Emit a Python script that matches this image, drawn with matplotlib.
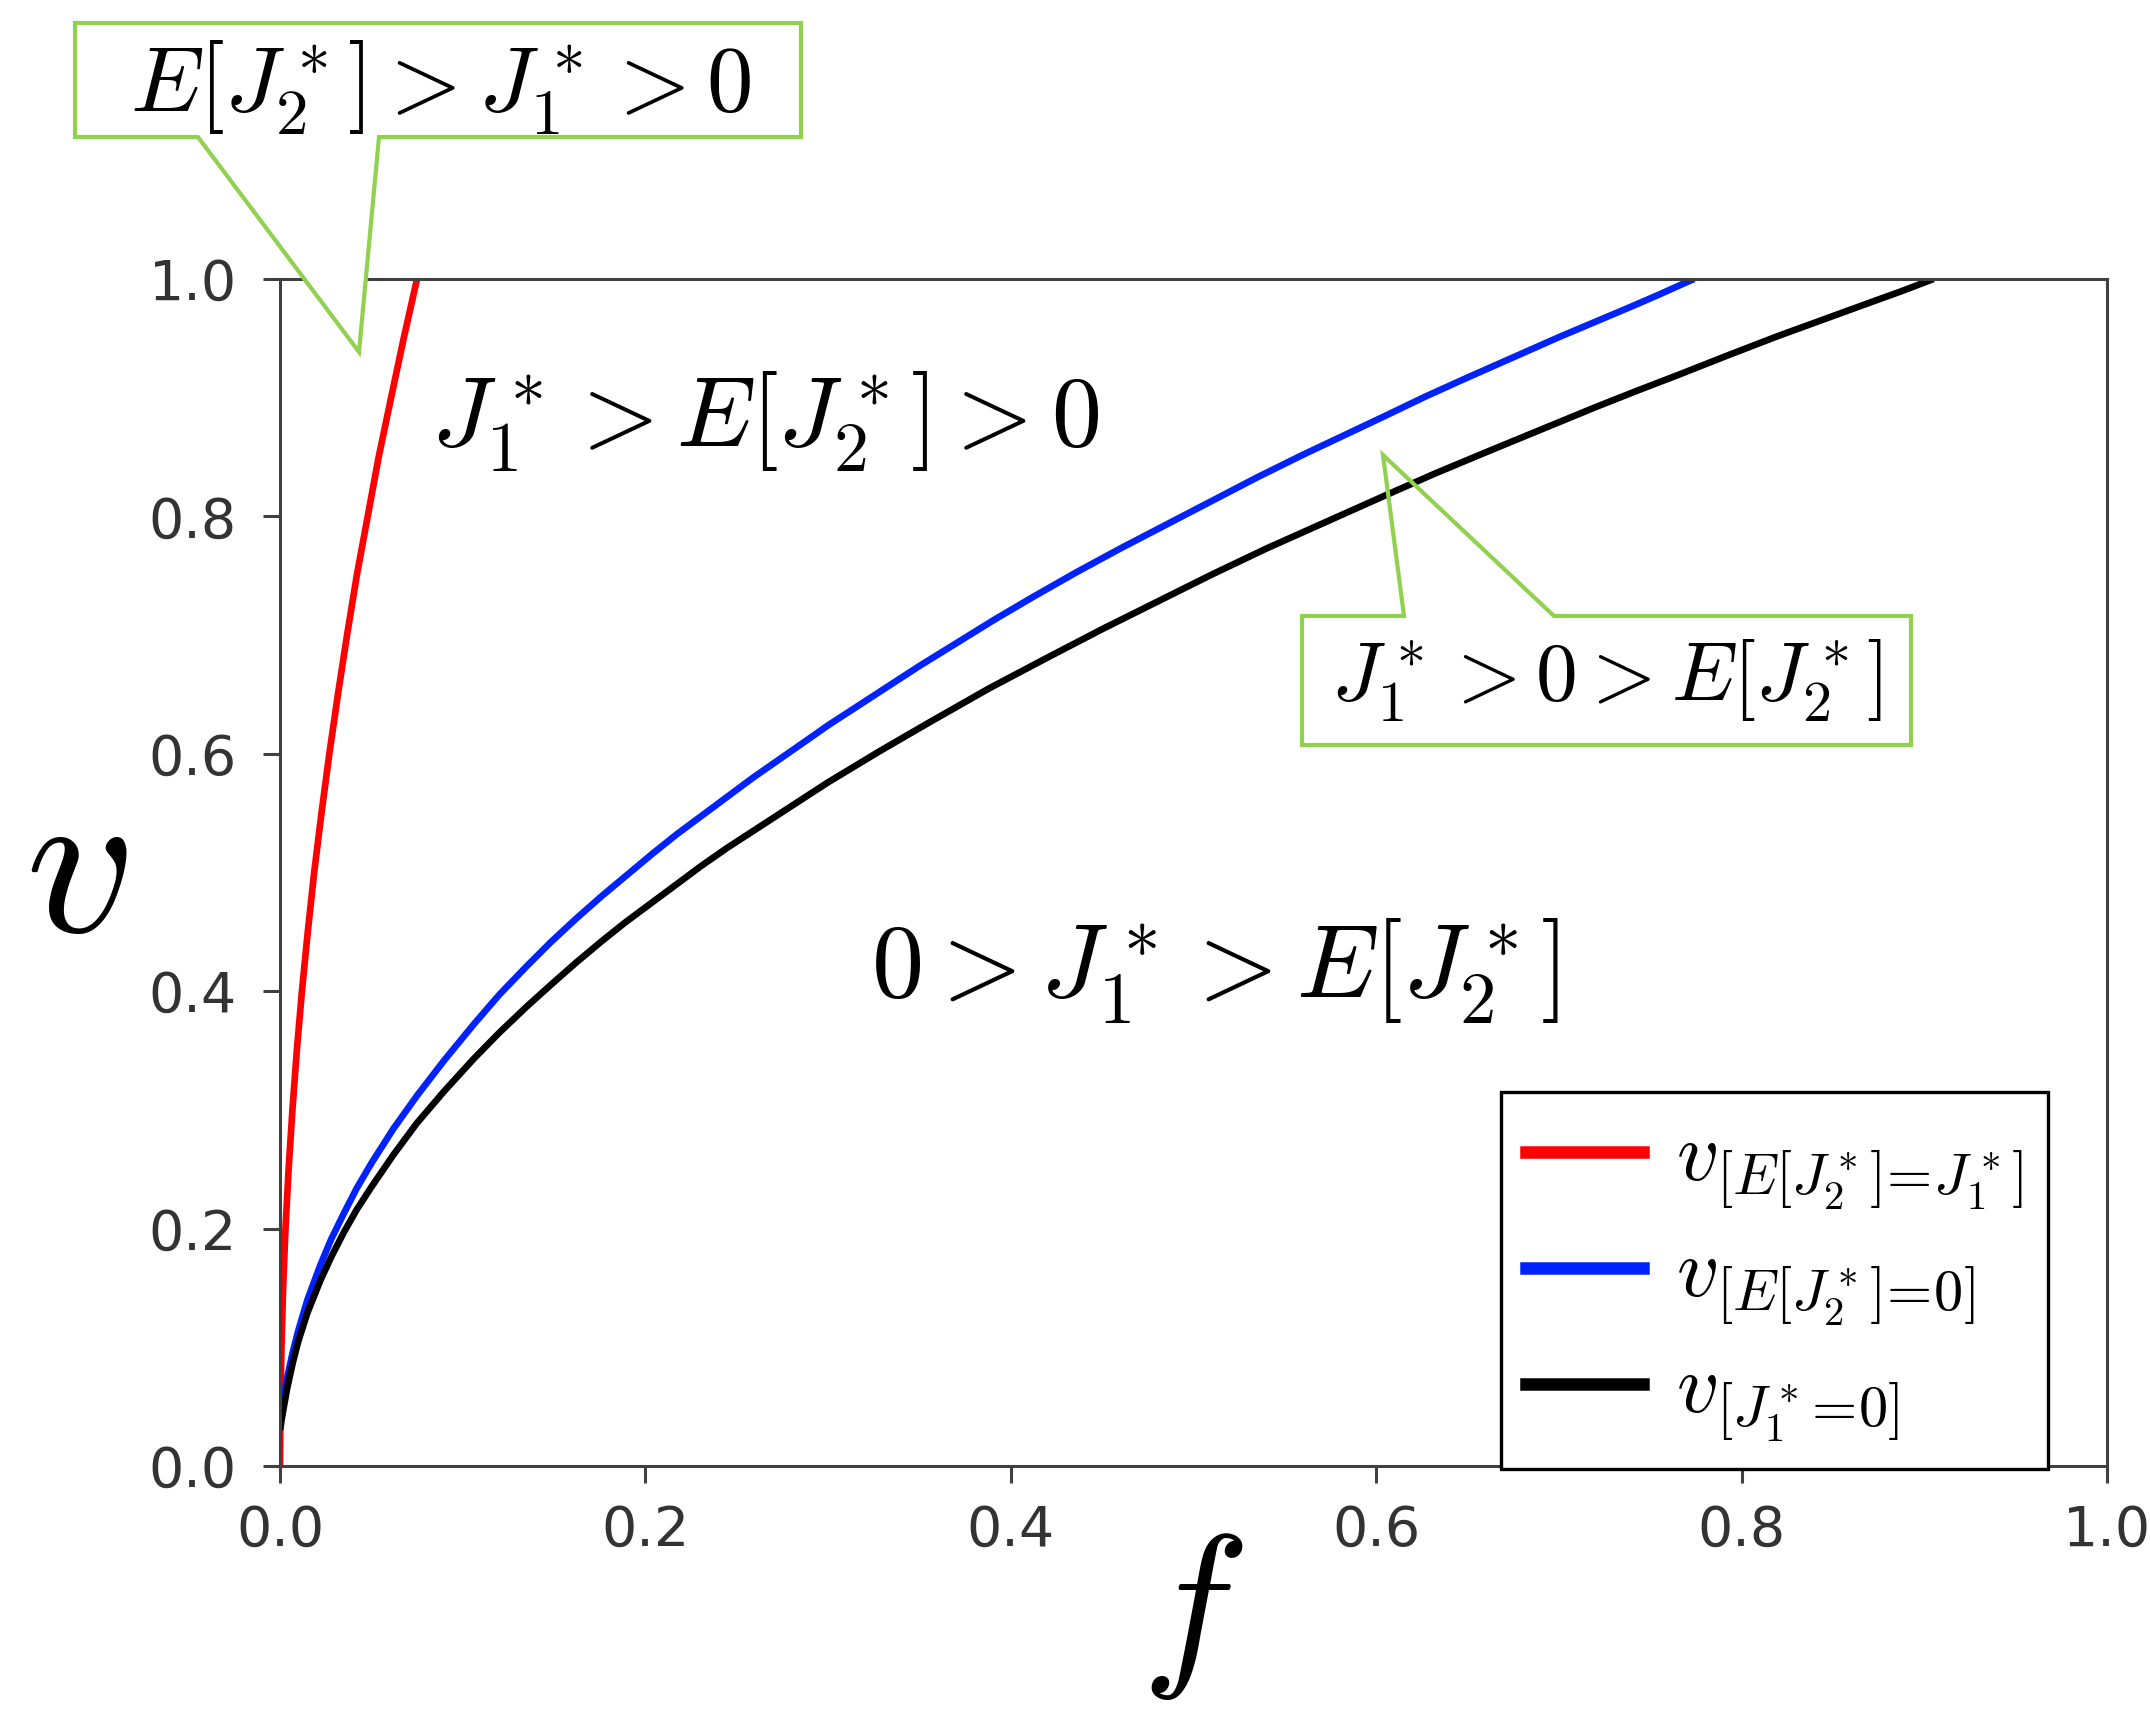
import matplotlib
matplotlib.use("Agg")
import matplotlib.pyplot as plt
from matplotlib.patches import Polygon
from matplotlib.lines import Line2D

plt.rcParams['mathtext.fontset'] = 'cm'
plt.rcParams['font.family'] = ['DejaVu Sans']

# ---- data ----
red_f = [0.000, 0.0002, 0.0008, 0.0017, 0.0030, 0.0047, 0.0068, 0.0092, 0.0120, 0.0152, 0.0187,
         0.0227, 0.0270, 0.0317, 0.0367, 0.0420, 0.0480, 0.0540, 0.0608, 0.0677, 0.0750]
red_v = [0.000, 0.05, 0.10, 0.15, 0.20, 0.25, 0.30, 0.35, 0.40, 0.45, 0.50,
         0.55, 0.60, 0.65, 0.70, 0.75, 0.80, 0.85, 0.90, 0.95, 1.00]

blue_f = [0.000, 0.001, 0.002, 0.004, 0.007, 0.010, 0.015, 0.022, 0.028, 0.035, 0.042, 0.050, 0.062,
          0.075, 0.090, 0.106, 0.120, 0.135, 0.148, 0.162, 0.176, 0.190, 0.204, 0.217, 0.231,
          0.245, 0.259, 0.273, 0.287, 0.300, 0.315, 0.329, 0.350, 0.370, 0.391, 0.412, 0.436,
          0.460, 0.485, 0.510, 0.535, 0.560, 0.582, 0.604, 0.627, 0.650, 0.675, 0.700, 0.720,
          0.740, 0.755, 0.768, 0.774]
blue_v = [0.040, 0.050, 0.058, 0.075, 0.096, 0.114, 0.140, 0.169, 0.191, 0.213, 0.234, 0.255, 0.284,
          0.312, 0.342, 0.372, 0.397, 0.421, 0.441, 0.461, 0.480, 0.498, 0.516, 0.532, 0.548,
          0.564, 0.580, 0.595, 0.610, 0.624, 0.639, 0.653, 0.674, 0.693, 0.713, 0.732, 0.753,
          0.773, 0.793, 0.813, 0.833, 0.852, 0.868, 0.884, 0.901, 0.917, 0.934, 0.951, 0.964,
          0.977, 0.987, 0.996, 1.000]

black_f = [0.000, 0.001, 0.002, 0.004, 0.007, 0.010, 0.015, 0.022, 0.028, 0.035, 0.042, 0.050, 0.062,
           0.075, 0.090, 0.106, 0.120, 0.135, 0.148, 0.162, 0.176, 0.189, 0.203, 0.217, 0.231,
           0.245, 0.259, 0.273, 0.287, 0.300, 0.328, 0.356, 0.388, 0.420, 0.450, 0.480, 0.510,
           0.540, 0.572, 0.604, 0.632, 0.660, 0.690, 0.720, 0.743, 0.765, 0.793, 0.820, 0.845,
           0.870, 0.888, 0.905]
black_v = [0.030, 0.040, 0.049, 0.066, 0.087, 0.105, 0.129, 0.156, 0.176, 0.197, 0.216, 0.235, 0.262,
           0.289, 0.316, 0.343, 0.365, 0.387, 0.405, 0.424, 0.442, 0.458, 0.474, 0.490, 0.506,
           0.521, 0.535, 0.549, 0.563, 0.576, 0.602, 0.627, 0.655, 0.681, 0.705, 0.728, 0.751,
           0.773, 0.795, 0.817, 0.836, 0.854, 0.873, 0.892, 0.906, 0.919, 0.936, 0.952, 0.966,
           0.980, 0.990, 1.000]

series_labels = [r'$v_{[E[J_2^*]\!=\!J_1^*]}$', r'$v_{[E[J_2^*]\!=\!0]}$', r'$v_{[J_1^*\!=\!0]}$']
series_colors = ['#ff0000', '#0022ff', '#000000']

ticks = [0.0, 0.2, 0.4, 0.6, 0.8, 1.0]
tick_labels = ['0.0', '0.2', '0.4', '0.6', '0.8', '1.0']

region_top = r'$J_1^* > E[J_2^*] > 0$'
region_mid = r'$0 > J_1^* > E[J_2^*]$'
callout_top = r'$E[J_2^*] > J_1^* > 0$'
callout_right = r'$J_1^* > 0 > E[J_2^*]$'

W, H = 2150, 1711
fig = plt.figure(figsize=(W / 100, H / 100), dpi=100)

def fx(px):
    return px / W

def fy(py):
    return 1 - py / H

ax = fig.add_axes([fx(280), fy(1466), fx(2107) - fx(280), fy(279) - fy(1466)])

for fvals, vvals, c, lab in zip([red_f, blue_f, black_f], [red_v, blue_v, black_v], series_colors, series_labels):
    ax.plot(fvals, vvals, color=c, lw=4.8, label=lab, solid_capstyle='butt', solid_joinstyle='round')

ax.set_xlim(0, 1)
ax.set_ylim(0, 1)
ax.set_xticks(ticks)
ax.set_xticklabels(tick_labels)
ax.set_yticks(ticks)
ax.set_yticklabels(tick_labels)
for s in ax.spines.values():
    s.set_color('#404040')
    s.set_linewidth(2.2)
ax.tick_params(axis='both', colors='#404040', labelcolor='#333333', labelsize=40,
               length=12, width=2.2, direction='out')
ax.tick_params(axis='x', pad=15)
ax.tick_params(axis='y', pad=19)

# axis labels
fig.text(fx(76), fy(873), r'$v$', fontsize=155, ha='center', va='center')
fig.text(fx(1192), fy(1614), r'$f$', fontsize=131, ha='center', va='center')

# region labels
fig.text(fx(765), fy(422), region_top, fontsize=72, ha='center', va='center')
fig.text(fx(1215), fy(971), region_mid, fontsize=75, ha='center', va='center')

green = '#92d050'
# callout 1 (top, filled white)
pts1 = [(75, 23), (801, 23), (801, 137), (379, 137), (359, 352), (198, 137), (75, 137)]
poly1 = Polygon([(fx(x), fy(y)) for x, y in pts1], closed=True, transform=fig.transFigure,
                facecolor='white', edgecolor=green, lw=3, zorder=5)
fig.patches.append(poly1)
fig.text(fx(441), fy(88), callout_top, fontsize=67, ha='center', va='center', zorder=6)

# callout 2 (right, unfilled)
pts2 = [(1302, 616), (1404, 616), (1383, 455), (1554, 616), (1911, 616), (1911, 745), (1302, 745)]
poly2 = Polygon([(fx(x), fy(y)) for x, y in pts2], closed=True, transform=fig.transFigure,
                facecolor='none', edgecolor=green, lw=3, zorder=5)
fig.patches.append(poly2)
fig.text(fx(1606), fy(681), callout_right, fontsize=60, ha='center', va='center', zorder=6)

# legend with thicker handles
handles = [Line2D([], [], color=c, lw=9) for c in series_colors]
leg = ax.legend(handles, series_labels, loc='upper left',
                bbox_to_anchor=(fx(1501), fy(1092)), bbox_transform=fig.transFigure,
                borderaxespad=0, fontsize=60, frameon=True, fancybox=False,
                handlelength=1.4, handletextpad=0.4, borderpad=0.3, labelspacing=0.25)
leg.get_frame().set_edgecolor('black')
leg.get_frame().set_linewidth(2.4)
leg.get_frame().set_alpha(1)

fig.savefig('out.png', dpi=100, facecolor='white')
